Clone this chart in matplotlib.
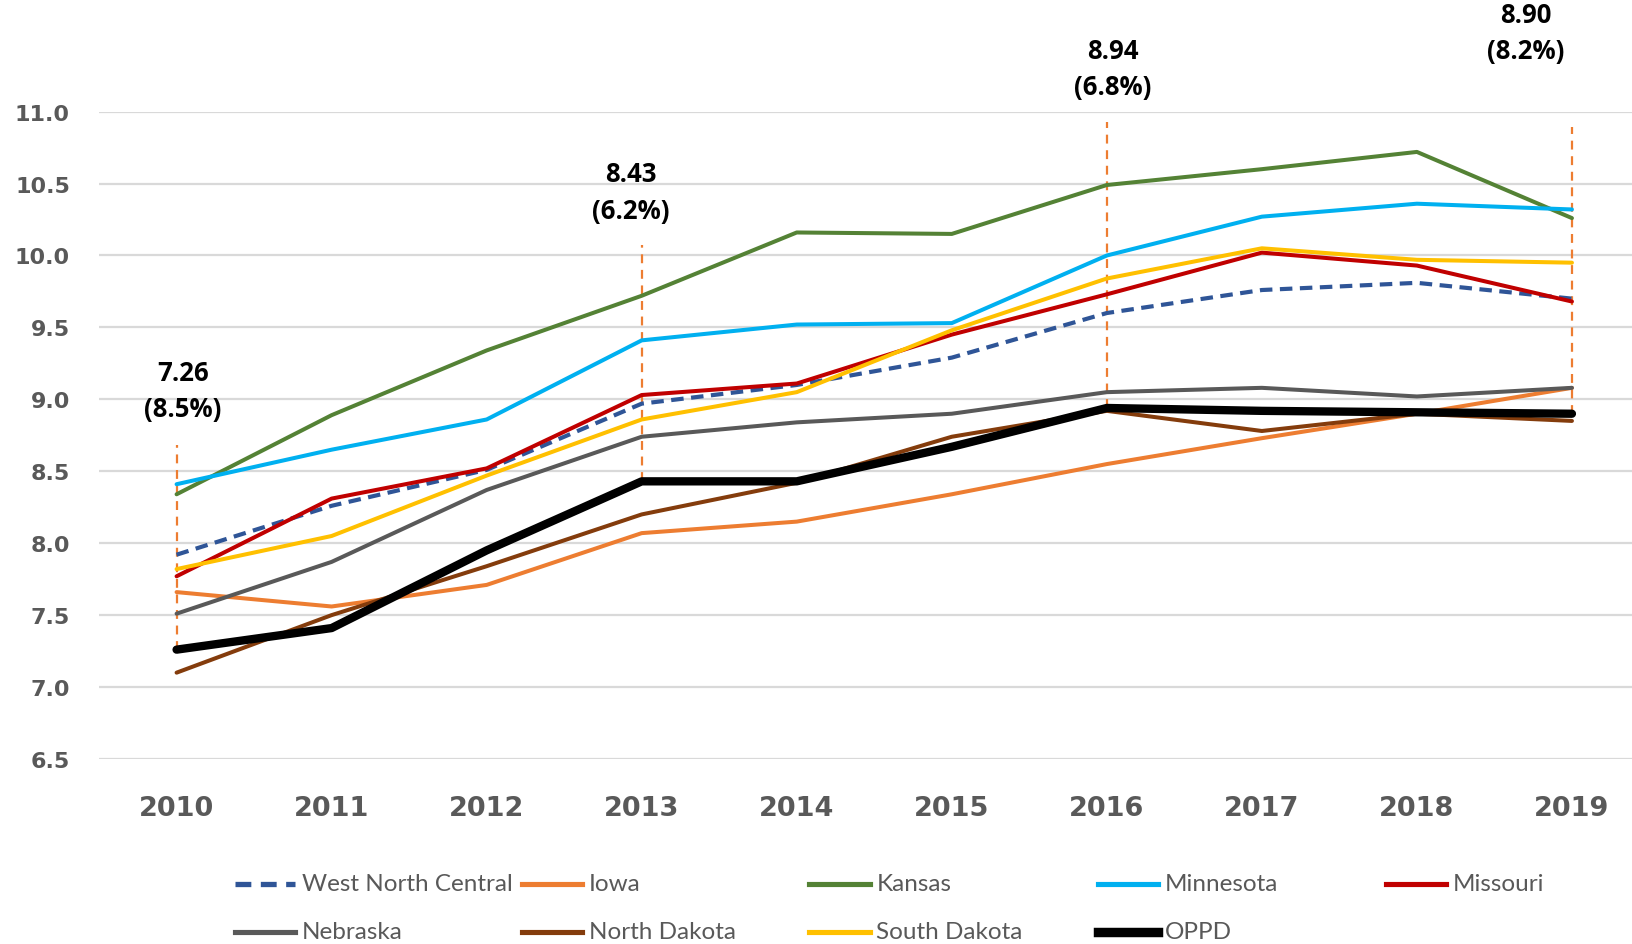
import matplotlib.pyplot as plt
from matplotlib.lines import Line2D

years = [2010, 2011, 2012, 2013, 2014, 2015, 2016, 2017, 2018, 2019]

west_north_central = [7.92, 8.26, 8.51, 8.97, 9.10, 9.29, 9.60, 9.76, 9.81, 9.70]
iowa = [7.66, 7.56, 7.71, 8.07, 8.15, 8.34, 8.55, 8.73, 8.90, 9.08]
kansas = [8.34, 8.89, 9.34, 9.72, 10.16, 10.15, 10.49, 10.60, 10.72, 10.26]
minnesota = [8.41, 8.65, 8.86, 9.41, 9.52, 9.53, 10.00, 10.27, 10.36, 10.32]
missouri = [7.77, 8.31, 8.52, 9.03, 9.11, 9.45, 9.73, 10.02, 9.93, 9.68]
nebraska = [7.51, 7.87, 8.37, 8.74, 8.84, 8.90, 9.05, 9.08, 9.02, 9.08]
north_dakota = [7.10, 7.50, 7.84, 8.20, 8.42, 8.74, 8.92, 8.78, 8.90, 8.85]
south_dakota = [7.82, 8.05, 8.47, 8.86, 9.05, 9.48, 9.84, 10.05, 9.97, 9.95]
oppd = [7.26, 7.41, 7.95, 8.43, 8.43, 8.67, 8.94, 8.92, 8.91, 8.90]

# callouts on OPPD
callout_idx = [0, 3, 6, 9]
callout_pct = ["8.5%", "6.2%", "6.8%", "8.2%"]
callout_line_top = [8.68, 10.07, 10.93, 10.89]
callout_text_y = [9.06, 10.44, 11.30, 11.55]
callout_dx = [0.04, -0.07, 0.04, -0.30]

series = [
    ("West North Central", west_north_central, "#2F5597", 3.0, (0, (3.0, 1.8))),
    ("Iowa", iowa, "#ED7D31", 2.9, "-"),
    ("Kansas", kansas, "#548235", 2.9, "-"),
    ("Minnesota", minnesota, "#00B0F0", 2.9, "-"),
    ("Missouri", missouri, "#C00000", 2.9, "-"),
    ("Nebraska", nebraska, "#595959", 2.9, "-"),
    ("North Dakota", north_dakota, "#843C0C", 2.9, "-"),
    ("South Dakota", south_dakota, "#FFC000", 2.9, "-"),
    ("OPPD", oppd, "black", 6.0, "-"),
]

fig = plt.figure(figsize=(16.32, 9.45), dpi=100)
ax = fig.add_axes([0.0607, 0.1958, 0.950, 0.685])

x = list(range(len(years)))
for i, (name, vals, color, lw, ls) in enumerate(series):
    ax.plot(x, vals, color=color, lw=lw, linestyle=ls, zorder=3 + i,
            solid_capstyle="round", solid_joinstyle="round")

# orange dashed callout lines + labels
for k, idx in enumerate(callout_idx):
    ax.plot([idx, idx], [oppd[idx], callout_line_top[k]], color="#ED7D31",
            lw=1.6, linestyle=(0, (4, 3)), zorder=2, clip_on=False)
    ax.text(idx + callout_dx[k], callout_text_y[k],
            "%.2f\n(%s)" % (oppd[idx], callout_pct[k]),
            ha="center", va="center", fontsize=18.5, fontweight="bold",
            family="Open Sans", linespacing=1.45, clip_on=False, zorder=20)

ax.set_xlim(-0.5, 9.5)
ax.set_ylim(6.5, 11.0)
ax.set_yticks([6.5 + 0.5 * i for i in range(10)])
ax.set_yticklabels(["%.1f" % (6.5 + 0.5 * i) for i in range(10)])
ax.set_xticks(x)
ax.set_xticklabels([str(y) for y in years])
ax.grid(axis="y", color="#D9D9D9", lw=1.6)
ax.set_axisbelow(True)
for s in ax.spines.values():
    s.set_visible(False)
ax.tick_params(axis="x", length=0, pad=26, labelsize=19.5, labelcolor="#595959")
ax.tick_params(axis="y", length=0, pad=21, labelsize=16, labelcolor="#595959")
for lab in ax.get_xticklabels() + ax.get_yticklabels():
    lab.set_fontweight("bold")

# legend laid out like Excel (5 equal columns, 2 rows)
col_x = [0.144, 0.320, 0.496, 0.673, 0.849]
row_y = [0.0635, 0.0127]
for i, (name, vals, color, lw, ls) in enumerate(series):
    cx = col_x[i % 5]
    cy = row_y[i // 5]
    fig.add_artist(Line2D([cx, cx + 0.0368], [cy, cy], color=color, lw=lw + 0.8,
                          linestyle=ls, transform=fig.transFigure))
    fig.text(cx + 0.041, cy, name, ha="left", va="center", fontsize=17.5,
             color="#595959", family="Lato")

fig.savefig("out.png", dpi=100)
